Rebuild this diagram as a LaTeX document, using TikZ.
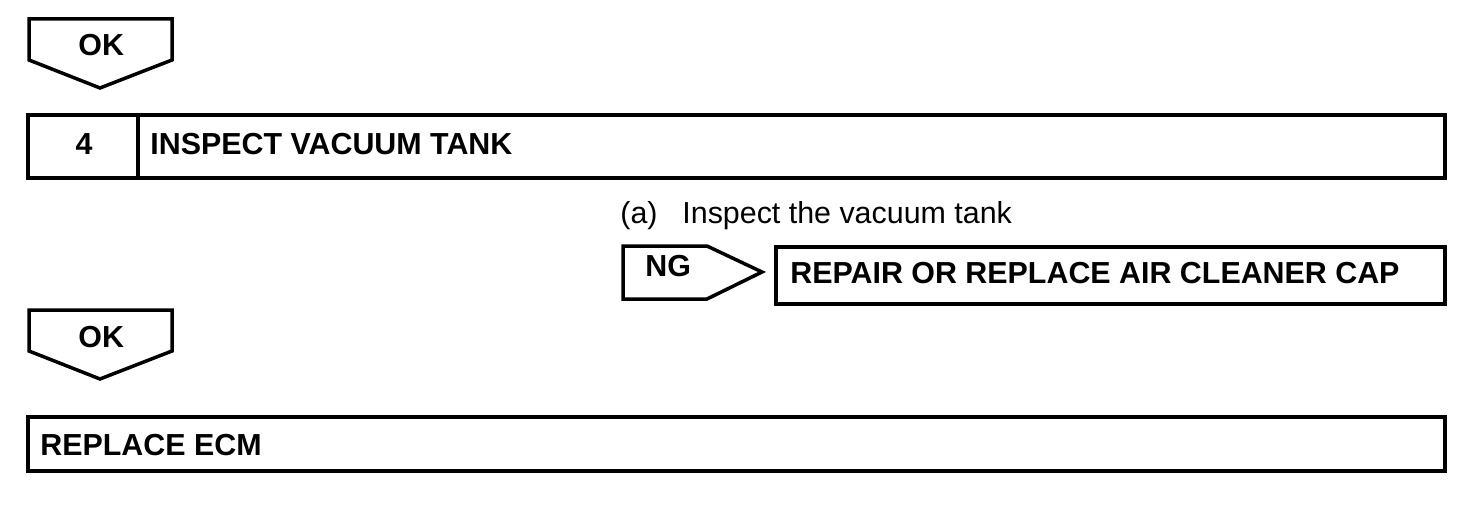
\documentclass[tikz,border=0pt]{standalone}
\usepackage{fontspec}
\setmainfont{Liberation Sans}
\usetikzlibrary{positioning}
\tikzset{
  frame/.style={draw=black,line width=1.75pt,line join=miter},
  capt/.style={inner sep=0pt,anchor=base west,
               font=\fontsize{15.2}{18}\selectfont\bfseries},
  note/.style={inner sep=0pt,anchor=base west,
               font=\fontsize{15.2}{18}\selectfont},
}

\begin{document}
\begin{tikzpicture}[x=0.5pt,y=-0.5pt]
  \useasboundingbox (0,0) rectangle (1472,508);

  % OK arrows
  \foreach \y/\n in {19/okone,310/oktwo}{
    \draw[frame] (29,\y) -- (172,\y) -- (172,\y+41) -- (100,\y+69)
      -- (29,\y+41) -- cycle;
    \node[capt] (\n) at (78,\y+37) {OK};
  }

  % step 4
  \draw[frame] (28,115) rectangle (1445,178);
  \draw[frame] (138,115) -- (138,178);
  \node[capt,anchor=base] (stepno) at (84,155) {4};
  \node[capt] (steptitle) at (150,155) {INSPECT VACUUM TANK};

  \node[note] (subp) at (620,223) {(a)};
  \node[note] (subtxt) at (682,223) {Inspect the vacuum tank};

  % NG branch
  \draw[frame] (623,246) -- (707,246) -- (762,272) -- (707,299)
    -- (623,299) -- cycle;
  \node[capt] (ng) at (645,276) {NG};
  \draw[frame] (776,247) rectangle (1445,304);
  \node[capt] (repair) at (790,283) {REPAIR OR REPLACE AIR CLEANER CAP};

  % last step
  \draw[frame] (28,417) rectangle (1445,471);
  \node[capt] (ecm) at (40,455) {REPLACE ECM};
\end{tikzpicture}
\end{document}
